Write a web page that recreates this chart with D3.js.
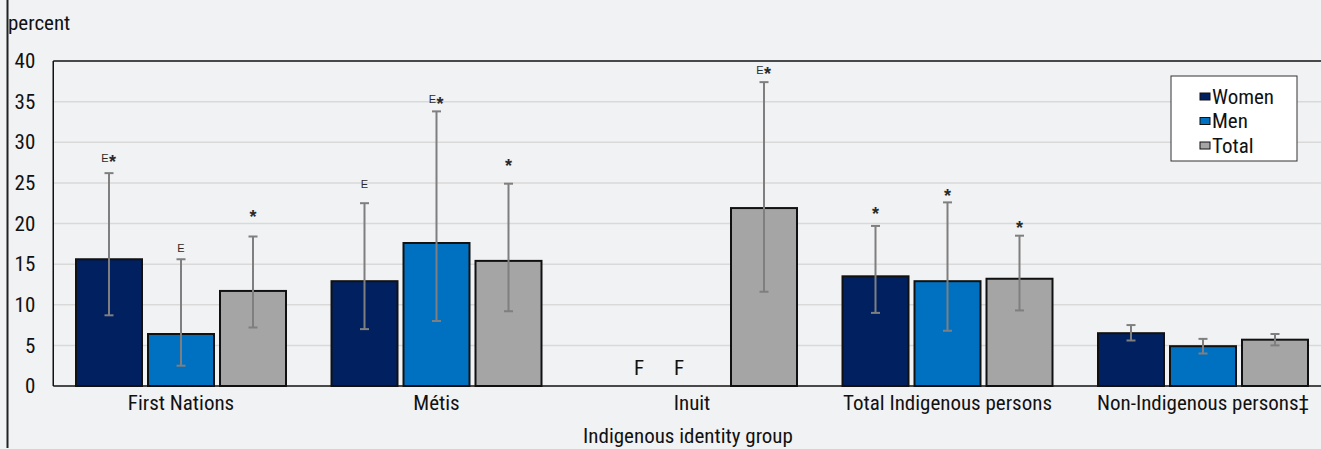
<!DOCTYPE html>
<html>
<head>
<meta charset="utf-8">
<script src="https://cdn.jsdelivr.net/npm/d3@7"></script>
<style>
  html, body { margin: 0; padding: 0; background: #f1f2f4; }
  svg { display: block; }
  .lbl { font-family: "Liberation Sans Narrow", "Roboto Condensed", "DejaVu Sans Condensed", sans-serif; font-size: 21px; fill: #111; }
  .flag { font-family: "Liberation Sans", Arial, sans-serif; fill: #2a2a2a; }
</style>
</head>
<body>
<script>
// Indigenous identity groups
const categories = ["First Nations", "Métis", "Inuit", "Total Indigenous persons", "Non-Indigenous persons‡"];
const seriesNames = ["Women", "Men", "Total"];

// Percent values (null = too unreliable to publish)
const women = [15.6, 12.9, null, 13.5, 6.5];
const men   = [6.4, 17.6, null, 12.9, 4.9];
const total = [11.7, 15.4, 21.9, 13.2, 5.7];

// 95% confidence interval bounds
const womenLow  = [8.7, 7.0, null, 9.0, 5.6];
const womenHigh = [26.2, 22.5, null, 19.7, 7.5];
const menLow    = [2.5, 8.0, null, 6.8, 4.0];
const menHigh   = [15.6, 33.8, null, 22.6, 5.8];
const totalLow  = [7.2, 9.2, 11.6, 9.3, 5.0];
const totalHigh = [18.4, 24.9, 37.4, 18.5, 6.4];

// Quality flags (E = use with caution, F = too unreliable, * = significantly different from reference)
const womenFlags = ["E*", "E", "F", "*", ""];
const menFlags   = ["E", "E*", "F", "*", ""];
const totalFlags = ["*", "*", "E*", "*", ""];

// Height (in percent) at which each flag is centred
const womenFlagAt = [28.1, 24.9, 2.2, 21.7, null];
const menFlagAt   = [17.0, 35.3, 2.2, 23.9, null];
const totalFlagAt = [21.4, 27.6, 38.9, 20.0, null];

const yTicks = [0, 5, 10, 15, 20, 25, 30, 35, 40];

const colors = ["#002060", "#0070c0", "#a5a5a5"];

const W = 1321, H = 449;
const margin = { left: 53.25, top: 61, bottom: 63 };
const plotRight = 1330.75;

const svg = d3.select("body").append("svg").attr("width", W).attr("height", H);

// outer border on the left side
svg.append("line").attr("x1", 7.5).attr("x2", 7.5).attr("y1", 0).attr("y2", 448)
  .attr("stroke", "#222").attr("stroke-width", 2);

const x0 = d3.scaleBand().domain(categories).range([margin.left, plotRight]).padding(0);
const x1 = d3.scaleBand().domain(seriesNames)
  .range([x0.bandwidth() / 2 - 108, x0.bandwidth() / 2 + 108])
  .paddingInner(6 / 72).paddingOuter(3 / 72);
const y = d3.scaleLinear().domain([0, 40]).range([H - margin.bottom, margin.top]);

// gridlines
svg.append("g").selectAll("line").data(yTicks.filter(t => t > 0 && t < 40)).join("line")
  .attr("x1", margin.left).attr("x2", plotRight)
  .attr("y1", d => y(d)).attr("y2", d => y(d))
  .attr("stroke", "#d9d9d9").attr("stroke-width", 1.5);

// y axis tick labels
const yAxis = d3.axisLeft(y).tickValues(yTicks).tickSize(0).tickPadding(18);
const ya = svg.append("g").attr("transform", `translate(${margin.left},0)`).call(yAxis);
ya.select(".domain").remove();
ya.selectAll("text").attr("class", "lbl").attr("font-family", null).attr("font-size", null);

svg.append("text").attr("class", "lbl").attr("x", 8).attr("y", 30).text("percent");

// assemble rows
const rows = categories.map((c, i) => ({
  cat: c,
  bars: [
    { s: "Women", v: women[i], lo: womenLow[i], hi: womenHigh[i], flag: womenFlags[i], at: womenFlagAt[i], c: colors[0] },
    { s: "Men",   v: men[i],   lo: menLow[i],   hi: menHigh[i],   flag: menFlags[i],   at: menFlagAt[i],   c: colors[1] },
    { s: "Total", v: total[i], lo: totalLow[i], hi: totalHigh[i], flag: totalFlags[i], at: totalFlagAt[i], c: colors[2] }
  ]
}));

const groups = svg.append("g").selectAll("g").data(rows).join("g")
  .attr("transform", d => `translate(${x0(d.cat)},0)`);

// bars
groups.selectAll("rect").data(d => d.bars.filter(b => b.v != null)).join("rect")
  .attr("x", b => x1(b.s)).attr("width", x1.bandwidth())
  .attr("y", b => y(b.v)).attr("height", b => y(0) - y(b.v))
  .attr("fill", b => b.c).attr("stroke", "#111").attr("stroke-width", 2);

// error bars
const eb = groups.selectAll("g.err").data(d => d.bars.filter(b => b.lo != null)).join("g").attr("class", "err")
  .attr("transform", b => `translate(${x1(b.s) + x1.bandwidth() / 2},0)`);
eb.append("line").attr("x1", 0).attr("x2", 0).attr("y1", b => y(b.lo)).attr("y2", b => y(b.hi))
  .attr("stroke", "#7f7f7f").attr("stroke-width", 2);
eb.append("line").attr("x1", -4.5).attr("x2", 4.5).attr("y1", b => y(b.hi)).attr("y2", b => y(b.hi))
  .attr("stroke", "#7f7f7f").attr("stroke-width", 2);
eb.append("line").attr("x1", -4.5).attr("x2", 4.5).attr("y1", b => y(b.lo)).attr("y2", b => y(b.lo))
  .attr("stroke", "#7f7f7f").attr("stroke-width", 2);

// flags E / * above error bars
const fl = groups.selectAll("g.flag").data(d => d.bars.filter(b => b.flag && b.flag !== "F")).join("g").attr("class", "flag")
  .attr("transform", b => `translate(${x1(b.s) + x1.bandwidth() / 2},${y(b.at)})`);
fl.each(function (b) {
  const g = d3.select(this);
  const hasE = b.flag.includes("E"), hasStar = b.flag.includes("*");
  if (hasE) {
    g.append("text").attr("class", "flag").attr("x", hasStar ? -0.5 : 0).attr("y", 4)
      .attr("text-anchor", hasStar ? "end" : "middle")
      .attr("font-size", 11).text("E");
  }
  if (hasStar) {
    g.append("text").attr("class", "flag").attr("x", 0).attr("y", 10.5)
      .attr("text-anchor", hasE ? "start" : "middle")
      .attr("font-size", 18).attr("font-weight", "bold").text("*");
  }
});

// F flags for suppressed estimates
const fShift = { Women: 19, Men: -13 };
groups.selectAll("text.fflag").data(d => d.bars.filter(b => b.flag === "F")).join("text")
  .attr("class", "lbl fflag")
  .attr("x", b => x1(b.s) + x1.bandwidth() / 2 + fShift[b.s])
  .attr("y", b => y(b.at) + 7)
  .attr("text-anchor", "middle").text("F");

// plot frame: top line, left axis, baseline
svg.append("line").attr("x1", margin.left).attr("x2", plotRight).attr("y1", y(40)).attr("y2", y(40))
  .attr("stroke", "#111").attr("stroke-width", 1.5);
svg.append("line").attr("x1", margin.left).attr("x2", margin.left).attr("y1", y(40)).attr("y2", y(0))
  .attr("stroke", "#111").attr("stroke-width", 1.5);
svg.append("line").attr("x1", margin.left).attr("x2", plotRight).attr("y1", y(0)).attr("y2", y(0))
  .attr("stroke", "#111").attr("stroke-width", 1.5);

// category labels
const xAxis = d3.axisBottom(x0).tickSize(0).tickPadding(9);
const xa = svg.append("g").attr("transform", `translate(0,${y(0)})`).call(xAxis);
xa.select(".domain").remove();
xa.selectAll("text").attr("class", "lbl").attr("font-family", null).attr("font-size", null);

svg.append("text").attr("class", "lbl").attr("x", (margin.left + plotRight) / 2 - 4).attr("y", 443)
  .attr("text-anchor", "middle").text("Indigenous identity group");

// legend
const lg = svg.append("g").attr("transform", "translate(1171,76)");
lg.append("rect").attr("width", 126).attr("height", 85).attr("fill", "#ffffff").attr("stroke", "#333").attr("stroke-width", 1);
const li = lg.selectAll("g").data(seriesNames).join("g").attr("transform", (d, i) => `translate(29,${20 + i * 24.5})`);
li.append("rect").attr("x", 0).attr("y", -3).attr("width", 10).attr("height", 7)
  .attr("fill", (d, i) => colors[i]).attr("stroke", "#111").attr("stroke-width", 1);
li.append("text").attr("class", "lbl").attr("x", 12).attr("y", 7.5).text(d => d);
</script>
</body>
</html>
